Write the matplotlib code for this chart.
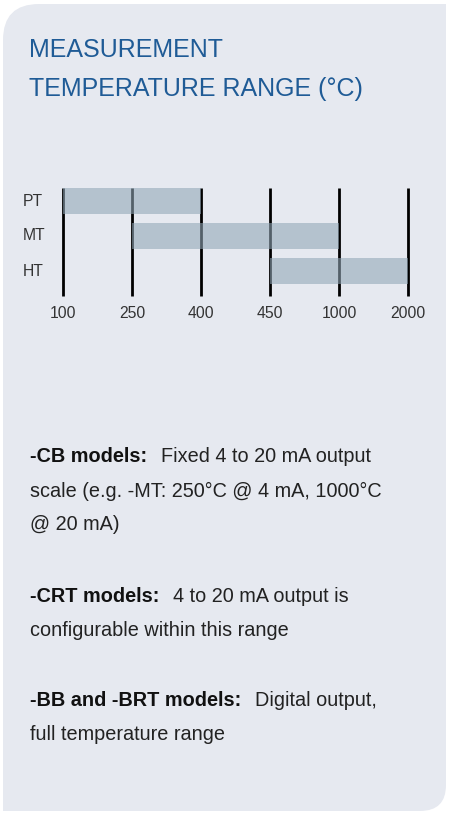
import matplotlib
matplotlib.use("Agg")
import matplotlib.pyplot as plt
from matplotlib.path import Path
from matplotlib.patches import PathPatch
import numpy as np

plt.rcParams['font.family'] = ['Liberation Sans', 'DejaVu Sans']

# data
scale_labels = ['100', '250', '400', '450', '1000', '2000']
ranges = ['PT', 'MT', 'HT']
range_start = ['100', '250', '450']
range_end = ['400', '1000', '2000']

title_lines = ['MEASUREMENT', 'TEMPERATURE RANGE (°C)']
notes = [
    ('-CB models:', ['Fixed 4 to 20 mA output', 'scale (e.g. -MT: 250°C @ 4 mA, 1000°C', '@ 20 mA)']),
    ('-CRT models:', ['4 to 20 mA output is', 'configurable within this range']),
    ('-BB and -BRT models:', ['Digital output,', 'full temperature range']),
]

W, H = 452, 814
fig = plt.figure(figsize=(W / 100, H / 100), dpi=100)
fig.patch.set_facecolor('white')


def px(x, y):
    return x / W, 1 - y / H


# background panel, rounded top-left and bottom-right corners
bg = fig.add_axes([0, 0, 1, 1])
bg.set_xlim(0, W)
bg.set_ylim(H, 0)
bg.axis('off')
L, T, R, B = 3, 4, 446, 811
r1, r2 = 36, 26
verts = [(L + r1, T), (R, T), (R, B - r2), (R, B), (R - r2, B), (L, B), (L, T + r1), (L, T), (L + r1, T), (L + r1, T)]
codes = [Path.MOVETO, Path.LINETO, Path.LINETO, Path.CURVE3, Path.CURVE3, Path.LINETO,
         Path.LINETO, Path.CURVE3, Path.CURVE3, Path.CLOSEPOLY]
bg.add_patch(PathPatch(Path(verts, codes), facecolor='#e6e9f0', edgecolor='none'))

# title
for i, line in enumerate(title_lines):
    fig.text(*px(29, 57 + i * 39), line, fontsize=18, color='#1f5b96', va='baseline', ha='left')

# range chart
ax = fig.add_axes([63 / W, 1 - 296 / H, 345 / W, 108 / H])
ax.patch.set_visible(False)
for s in ax.spines.values():
    s.set_visible(False)
xpos = np.arange(len(scale_labels))
ax.set_xlim(0, len(scale_labels) - 1)
ax.set_ylim(2.714, -0.37)
ax.vlines(xpos, 2.714, -0.37, color='black', lw=2, zorder=1, clip_on=False)
starts = [scale_labels.index(s) for s in range_start]
ends = [scale_labels.index(e) for e in range_end]
ax.barh(np.arange(len(ranges)), np.array(ends) - np.array(starts), left=starts,
        height=0.74, color='#91a6b6', alpha=0.58, zorder=2, edgecolor='none')
ax.set_xticks(xpos)
ax.set_xticklabels(scale_labels, fontsize=11.3, color='#333333')
ax.tick_params(axis='x', length=0, pad=7)
ax.set_yticks([])
for i, name in enumerate(ranges):
    fig.text(23 / W, 1 - (201 + i * 35) / H, name, fontsize=11.3, color='#333333', va='center', ha='left')

# notes
fig.canvas.draw()
rend = fig.canvas.get_renderer()
note_tops = [457, 597, 700]
for (head, lines), y in zip(notes, note_tops):
    t = fig.text(*px(30, y), head, fontsize=14.3, fontweight='bold', color='#111111', va='center', ha='left')
    bb = t.get_window_extent(rend)
    fig.text((bb.x1 + 14) / W, 1 - y / H, lines[0], fontsize=14.3, color='#222222', va='center', ha='left')
    for ln in lines[1:]:
        y += 34
        fig.text(*px(30, y), ln, fontsize=14.3, color='#222222', va='center', ha='left')

fig.savefig('out.png', dpi=100, facecolor='white')
